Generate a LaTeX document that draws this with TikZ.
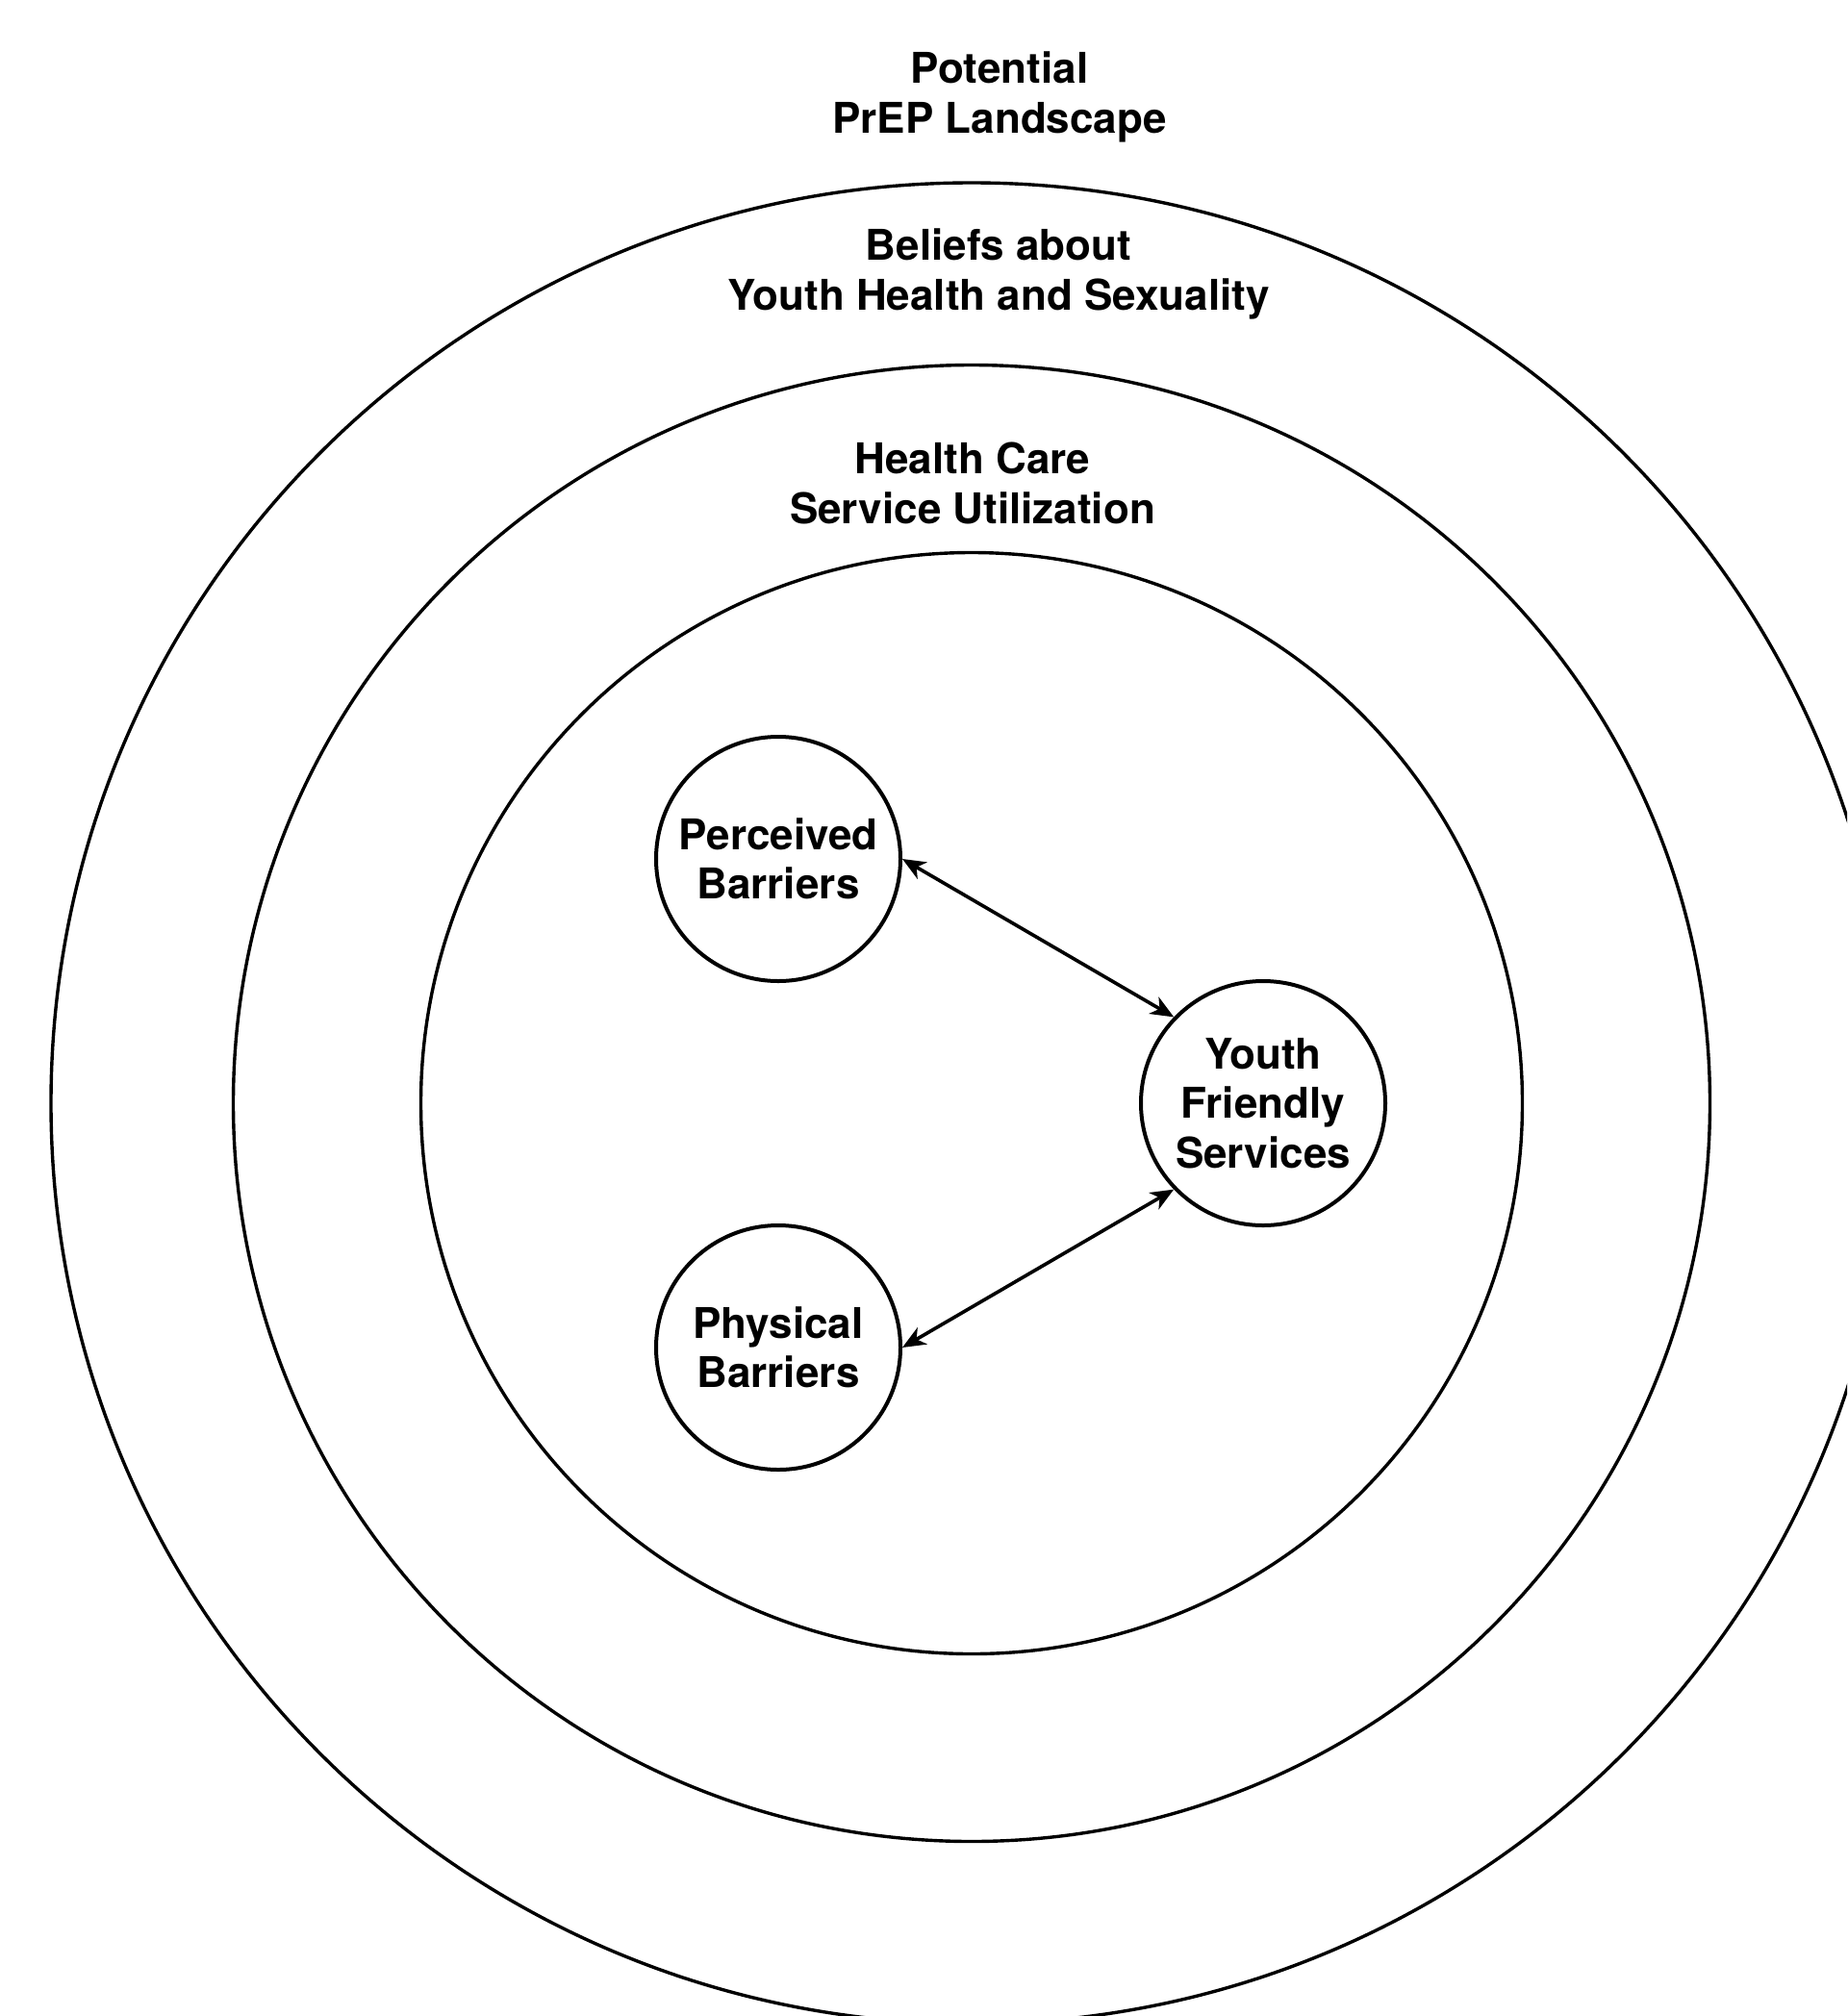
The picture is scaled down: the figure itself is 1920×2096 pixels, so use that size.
\documentclass[tikz,border=0pt]{standalone}
\usepackage{fontspec}
\setmainfont{TeX Gyre Heros}
\usetikzlibrary{arrows.meta}
\begin{document}
\begin{tikzpicture}[x=1pt,y=-1pt,
  ring/.style={draw=black,line width=3.4pt},
  lbl/.style={align=center,inner sep=0pt,font=\fontsize{44}{51.5}\selectfont\bfseries},
  topic/.style={circle,draw=black,line width=4pt,minimum size=254pt,inner sep=0pt,align=center,font=\fontsize{44}{51.5}\selectfont\bfseries},
  arr/.style={line width=3.6pt,{Stealth[length=24pt,width=20pt,inset=7pt]}-{Stealth[length=24pt,width=20pt,inset=7pt]}}
]
\useasboundingbox (0,0) rectangle (1920,2096);
\fill[white] (0,0) rectangle (1920,2096);
\clip (0,0) rectangle (1920,2096);
\coordinate (c) at (1010,1147);
\draw[ring] (c) circle[radius=957];
\draw[ring] (c) circle[radius=767.5];
\draw[ring] (c) circle[radius=572.5];
\node[lbl] (l1) at (1039,101) {Potential\\PrEP Landscape};
\node[lbl] (l2) at (1038,285) {Beliefs about\\Youth Health and Sexuality};
\node[lbl] (l3) at (1011,502.5) {Health Care\\Service Utilization};
\node[topic] (pb) at (809,893) {Perceived\\Barriers};
\node[topic] (phb) at (809,1401) {Physical\\Barriers};
\node[topic] (yfs) at (1313,1147) {Youth\\Friendly\\Services};
\draw[arr] (pb.east) -- (yfs.136);
\draw[arr] (phb.east) -- (yfs.224);
\end{tikzpicture}
\end{document}
